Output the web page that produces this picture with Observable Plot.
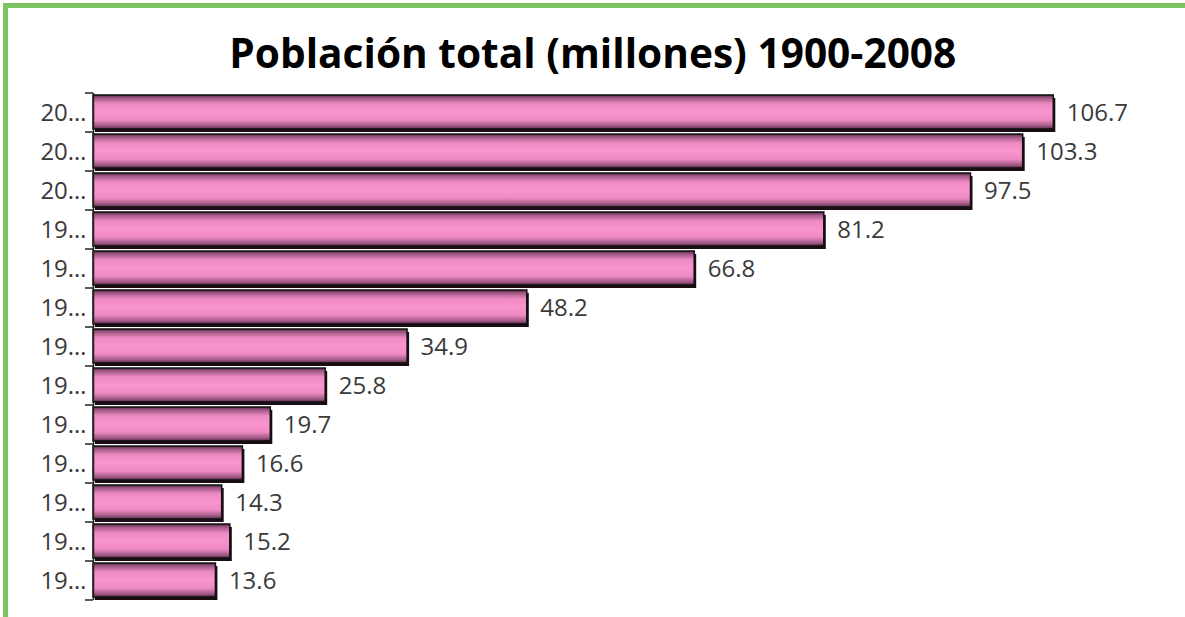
<!DOCTYPE html>
<html>
<head>
<meta charset="utf-8">
<script src="https://cdn.jsdelivr.net/npm/d3@7"></script>
<script src="https://cdn.jsdelivr.net/npm/@observablehq/plot@0.6"></script>
<style>
  html, body { margin: 0; padding: 0; background: #fff; }
  #frame { position: relative; width: 1185px; height: 617px; overflow: hidden; background: #fff; }
  #gtop { position: absolute; left: 3px; top: 3px; width: 1182px; height: 5px; background: #7cc45f; }
  #gleft { position: absolute; left: 3px; top: 3px; width: 5px; height: 614px; background: #7cc45f; }
  #title { position: absolute; left: 0; width: 1185px; top: 31px; text-align: center;
           font-family: "Open Sans", sans-serif; font-weight: 700; font-size: 42px; line-height: 1; color: #000; }
  #title span { display: inline-block; transform-origin: 50% 50%; white-space: nowrap; }
  #chart { position: absolute; left: 0; top: 88px; }
</style>
</head>
<body>
<div id="frame">
  <div id="gtop"></div>
  <div id="gleft"></div>
  <div id="title"><span>Población total (millones) 1900-2008</span></div>
  <div id="chart"></div>
</div>
<script>
// Data (top to bottom as shown)
const years  = ["2008", "2005", "2000", "1990", "1980", "1970", "1960", "1950", "1940", "1930", "1921", "1910", "1900"];
const values = [106.7, 103.3, 97.5, 81.2, 66.8, 48.2, 34.9, 25.8, 19.7, 16.6, 14.3, 15.2, 13.6];

const data = years.map((y, i) => ({year: y, value: values[i]}));

// Fit the title width to the reference
const span = document.querySelector("#title span");
const w = span.getBoundingClientRect().width;
span.style.transform = `scaleX(${727 / w})`;

function gradientDefs() {
  const defs = d3.create("svg:defs");
  const g = defs.append("linearGradient").attr("id", "pinkbar")
    .attr("x1", 0).attr("y1", 0).attr("x2", 0).attr("y2", 1);
  [[0, "#52243f"], [0.08, "#9a5580"], [0.26, "#ee8ac3"], [0.5, "#fa94cd"], [0.74, "#ee8ac3"], [0.92, "#9a5580"], [1, "#52243f"]]
    .forEach(([o, c]) => g.append("stop").attr("offset", o).attr("stop-color", c));
  return defs.node();
}

function boundaryTicks(index, scales, values, dimensions) {
  const y = scales.y;
  const bw = y.bandwidth();
  const edges = new Set();
  years.forEach(d => { edges.add(y(d)); edges.add(y(d) + bw); });
  const g = d3.create("svg:g").attr("stroke", "#222").attr("stroke-width", 1.5);
  for (const e of edges) {
    g.append("line")
      .attr("x1", dimensions.marginLeft - 8).attr("x2", dimensions.marginLeft)
      .attr("y1", e).attr("y2", e);
  }
  return g.node();
}

const chart = Plot.plot({
  width: 1185,
  height: 522,
  marginLeft: 93,
  marginRight: 12,
  marginTop: 5,
  marginBottom: 10,
  style: {fontFamily: "'Open Sans', sans-serif", color: "#333", background: "transparent", overflow: "visible"},
  x: {domain: [0, 120], axis: null},
  y: {domain: years, padding: 0, round: false, label: null},
  marks: [
    gradientDefs,
    Plot.barX(data, {y: "year", x: "value", insetTop: 2, insetBottom: 3, dx: 2, dy: 3, fill: "#1a0d14"}),
    Plot.barX(data, {y: "year", x: "value", insetTop: 2, insetBottom: 3, fill: "url(#pinkbar)", stroke: "#111", strokeWidth: 1.5}),
    Plot.text(data, {y: "year", x: "value", text: d => d.value.toFixed(1), dx: 13, textAnchor: "start", fontSize: 24, fill: "#3a3a3a"}),
    Plot.axisY({tickSize: 0, tickPadding: 7, fontSize: 24, tickFormat: d => d.slice(0, 2) + "…", fill: "#3a3a3a", label: null}),
    Plot.ruleX([0], {stroke: "#222", strokeWidth: 1.5}),
    boundaryTicks
  ]
});
document.getElementById("chart").appendChild(chart);
</script>
</body>
</html>
